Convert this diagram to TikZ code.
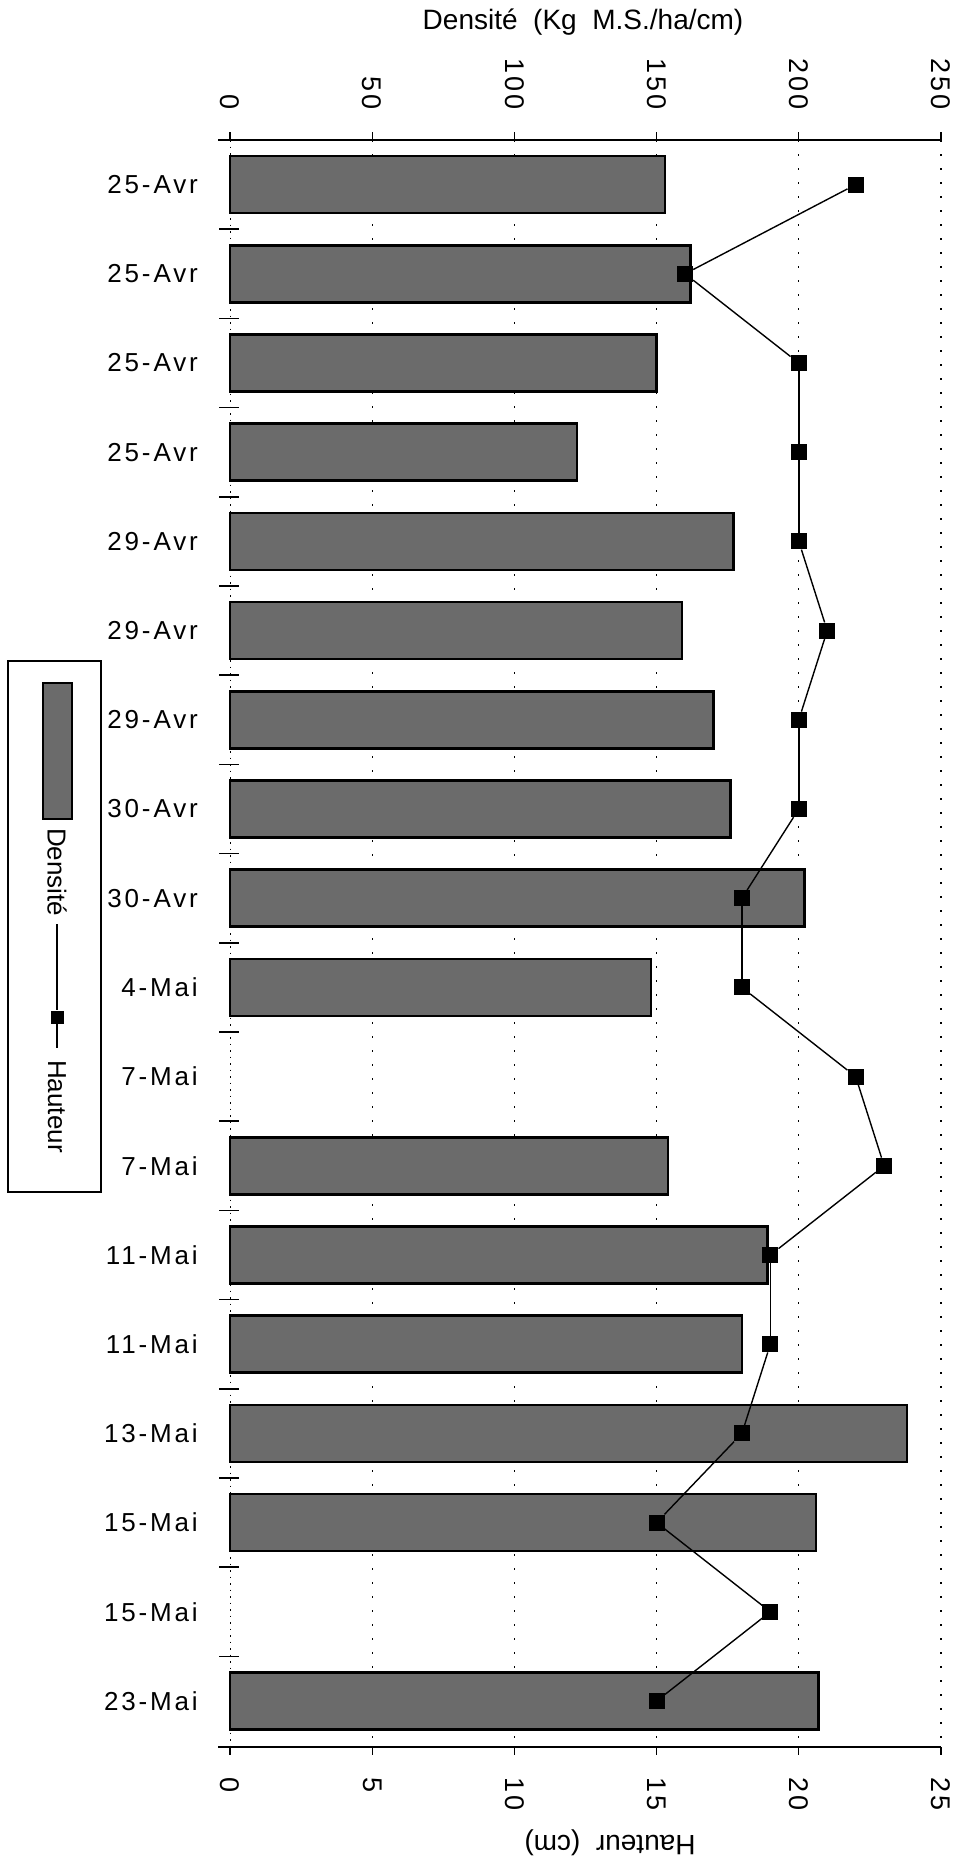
\documentclass[tikz,border=0pt]{standalone}
\usepackage{fontspec}
\setmainfont{Liberation Sans}
\newfontfamily\etiqfont{Liberation Sans}[LetterSpace=11]
\tikzset{
  barre/.style={draw=black, line width=2.5pt, fill=black!58},
  grille/.style={line width=1.3pt, dash pattern=on 2pt off 12pt},
  marqueur/.style={rectangle, fill=black, inner sep=0pt, minimum size=16pt},
  trait/.style={line width=1.4pt},
  graduation/.style={font=\etiqfont\fontsize{27}{30}\selectfont, inner sep=0pt},
  titre/.style={font=\fontsize{28}{32}\selectfont, inner sep=0pt},
  legende/.style={font=\fontsize{26}{30}\selectfont, inner sep=0pt, rotate=-90, anchor=west},
  date/.style={font=\etiqfont\fontsize{26}{30}\selectfont, anchor=east, inner sep=0pt},
}
\begin{document}
\begin{tikzpicture}[x=1pt, y=-1pt]
  \useasboundingbox (0,0) rectangle (963,1861);
  % grille et axes
  \foreach \k in {1,...,5}
    \draw[grille] ({230+\k*142.2},140) -- ({230+\k*142.2},1747);
  \draw[line width=1pt, dash pattern=on 1.5pt off 5pt] (230,140) -- (230,1747);
  \draw[line width=2pt] (218,140) -- (941,140);
  \draw[line width=2pt] (218,1747) -- (941,1747);
  \foreach \k in {0,...,5} {
    \draw[line width=1.2pt] ({230+\k*142.2},140) -- ({230+\k*142.2},132);
    \draw[line width=1.2pt] ({230+\k*142.2},1747) -- ({230+\k*142.2},1755);
  }
  \foreach \k in {1,...,17}
    \draw[line width=1.5pt] (219,{140+89.2*\k}) -- (239,{140+89.2*\k});
  % graduations
  \foreach \v [count=\k from 0] in {0,50,100,150,200,250}
    \node[graduation, rotate=-90, anchor=east] (dens\k) at ({230+\k*142.2},110) {\v};
  \foreach \v [count=\k from 0] in {0,5,10,15,20,25}
    \node[graduation, rotate=-90, anchor=west] (haut\k) at ({230+\k*142.2},1777) {\v};
  \node[titre] (titreDens) at (583,22) {Densité~~(Kg~~M.S./ha/cm)};
  \node[titre, rotate=180] (titreHaut) at (610,1843) {Hauteur~~(cm)};
  % dates
  \foreach \nom [count=\i] in {25-Avr,25-Avr,25-Avr,25-Avr,29-Avr,29-Avr,29-Avr,30-Avr,30-Avr,4-Mai,7-Mai,7-Mai,11-Mai,11-Mai,13-Mai,15-Mai,15-Mai,23-Mai}
    \node[date] (date\i) at (198,{95.4+89.2*\i}) {\nom};
  % barres densite
  \foreach \i/\v in {1/153,2/162,3/150,4/122,5/177,6/159,7/170,8/176,9/202,10/148,12/154,13/189,14/180,15/238,16/206,18/207}
    \draw[barre] (230,{95.4+89.2*\i-28.5}) rectangle ({230+\v*2.844},{95.4+89.2*\i+28.5});
  % hauteur
  \foreach \h [count=\i] in {22,16,20,20,20,21,20,20,18,18,22,23,19,19,18,15,19,15}
    \node[marqueur] (h\i) at ({230+\h*28.44},{95.4+89.2*\i}) {};
  \foreach \i [evaluate=\i as \j using int(\i+1)] in {1,...,17}
    \draw[trait] (h\i) -- (h\j);
  % legende
  \draw[line width=1.5pt] (8,661) rectangle (101,1192);
  \draw[barre] (43,683) rectangle (72,819);
  \node[legende] (legDens) at (57,828) {Densité};
  \node[marqueur, minimum size=13pt] (legH) at (57,1017) {};
  \coordinate (legHaut1) at (57,924);
  \coordinate (legHaut2) at (57,1048);
  \draw[trait] (legHaut1) -- (legH) -- (legHaut2);
  \node[legende] (legHaut) at (57,1060) {Hauteur};
\end{tikzpicture}
\end{document}
